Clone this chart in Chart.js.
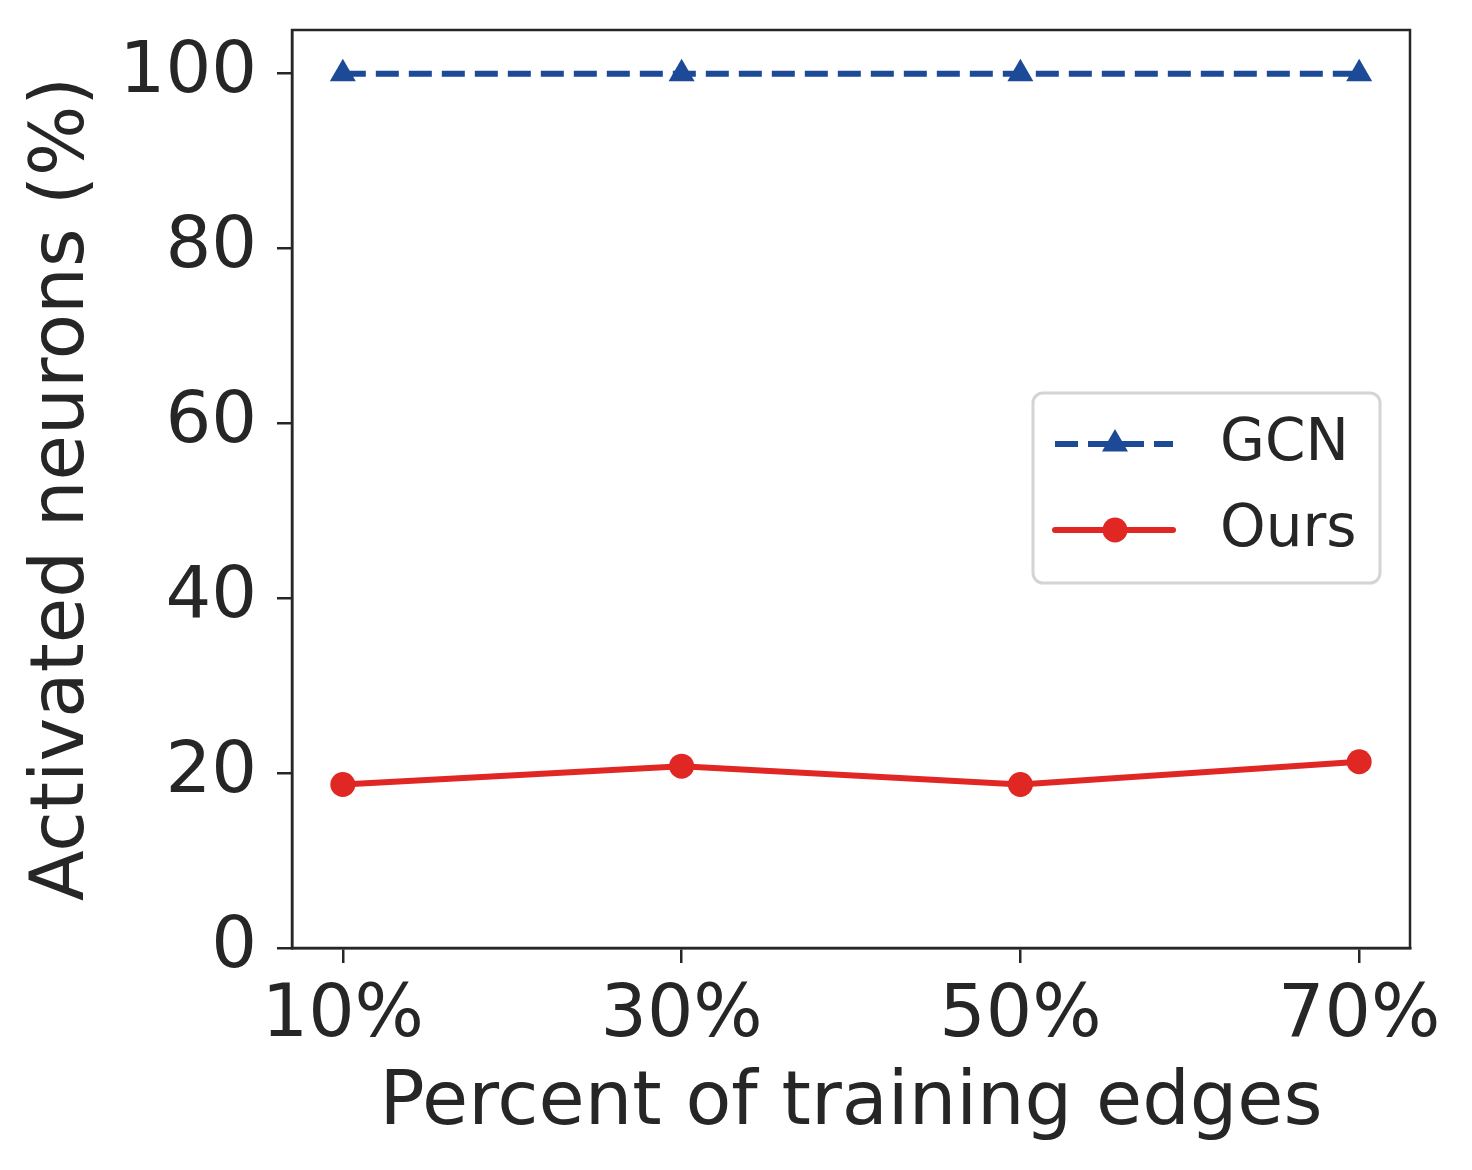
<!DOCTYPE html>
<html lang="en">
  <head>
    <meta charset="UTF-8" />
    <title>Activated neurons</title>
    <style>
      html, body {
        margin: 0;
        padding: 0;
        background: #ffffff;
      }
      #chart {
        display: block;
      }
    </style>
  </head>
  <body>
    <canvas id="chart" width="1472" height="1170"></canvas>
    <script src="https://cdn.jsdelivr.net/npm/chart.js"></script>
    <script>
      // data
      var categories = ["10%", "30%", "50%", "70%"];
      var gcnValues = [100, 100, 100, 100];
      var oursValues = [18.7, 20.8, 18.7, 21.3];
      var yTicks = [0, 20, 40, 60, 80, 100];

      var INK = "#262626";
      var BLUE = "#1d4a96";
      var RED = "#e02724";
      var FONT = "'DejaVu Sans', sans-serif";

      function toPoints(values) {
        return values.map(function (v, i) {
          return { x: i, y: v };
        });
      }

      // frame around the plot area (all four spines)
      var framePlugin = {
        id: "frame",
        afterDraw: function (chart) {
          var a = chart.chartArea;
          var ctx = chart.ctx;
          ctx.save();
          ctx.strokeStyle = INK;
          ctx.lineWidth = 2.5;
          ctx.strokeRect(a.left, a.top, a.right - a.left, a.bottom - a.top);
          ctx.restore();
        },
      };

      // legend box inside the plot, like matplotlib's
      var legendPlugin = {
        id: "insideLegend",
        afterDraw: function (chart) {
          var ctx = chart.ctx;
          var a = chart.chartArea;
          var w = 347, h = 190;
          var x0 = a.right - 30 - w;
          var y0 = 393;
          ctx.save();
          ctx.beginPath();
          ctx.roundRect(x0, y0, w, h, 10);
          ctx.fillStyle = "rgba(255,255,255,0.8)";
          ctx.fill();
          ctx.strokeStyle = "#d4d4d4";
          ctx.lineWidth = 3;
          ctx.stroke();

          var rows = [
            { label: "GCN", color: BLUE, dash: [23, 10], marker: "triangle", y: y0 + 51 },
            { label: "Ours", color: RED, dash: [], marker: "circle", y: y0 + 137 },
          ];
          rows.forEach(function (r) {
            var lx0 = x0 + 22, lx1 = x0 + 140, mx = x0 + 82;
            ctx.beginPath();
            ctx.setLineDash(r.dash);
            ctx.lineCap = r.dash.length ? "butt" : "round";
            ctx.strokeStyle = r.color;
            ctx.lineWidth = 6;
            ctx.moveTo(lx0, r.y);
            ctx.lineTo(lx1, r.y);
            ctx.stroke();
            ctx.setLineDash([]);
            ctx.fillStyle = r.color;
            ctx.beginPath();
            if (r.marker === "triangle") {
              var rad = 15;
              ctx.moveTo(mx, r.y - rad);
              ctx.lineTo(mx + rad * 0.866, r.y + rad * 0.5);
              ctx.lineTo(mx - rad * 0.866, r.y + rad * 0.5);
              ctx.closePath();
            } else {
              ctx.arc(mx, r.y, 12.5, 0, Math.PI * 2);
            }
            ctx.fill();
            ctx.fillStyle = INK;
            ctx.font = "58px " + FONT;
            ctx.textBaseline = "middle";
            ctx.textAlign = "left";
            ctx.fillText(r.label, x0 + 187, r.y + 1);
          });
          ctx.restore();
        },
      };

      var ctx = document.getElementById("chart").getContext("2d");
      var chart = new Chart(ctx, {
        type: "line",
        data: {
          datasets: [
            {
              label: "GCN",
              data: toPoints(gcnValues),
              borderColor: BLUE,
              backgroundColor: BLUE,
              borderWidth: 6,
              borderDash: [23, 10],
              pointStyle: "triangle",
              pointRadius: 15,
              pointHoverRadius: 15,
              pointBorderWidth: 0,
            },
            {
              label: "Ours",
              data: toPoints(oursValues),
              borderColor: RED,
              backgroundColor: RED,
              borderWidth: 6,
              pointStyle: "circle",
              pointRadius: 12.5,
              pointHoverRadius: 12.5,
              pointBorderWidth: 0,
            },
          ],
        },
        options: {
          responsive: false,
          devicePixelRatio: 1,
          animation: false,
          events: [],
          layout: {
            padding: { top: 30, right: 62, left: 0, bottom: 0 },
          },
          plugins: {
            legend: { display: false },
            tooltip: { enabled: false },
          },
          scales: {
            x: {
              type: "linear",
              min: -0.15,
              max: 3.15,
              afterBuildTicks: function (scale) {
                scale.ticks = categories.map(function (c, i) {
                  return { value: i };
                });
              },
              afterFit: function (scale) {
                scale.height = 222;
                scale.paddingLeft = 0;
                scale.paddingRight = 0;
              },
              grid: {
                drawOnChartArea: false,
                drawTicks: true,
                tickLength: 15,
                color: INK,
                lineWidth: 2.5,
              },
              border: { display: true, color: INK, width: 2.5 },
              ticks: {
                color: INK,
                padding: 10,
                maxRotation: 0,
                autoSkip: false,
                font: { family: FONT, size: 73 },
                callback: function (v) {
                  return categories[v];
                },
              },
              title: {
                display: true,
                text: "Percent of training edges",
                color: INK,
                font: { family: FONT, size: 75 },
                padding: { top: 0, bottom: 20 },
              },
            },
            y: {
              min: 0,
              max: 105,
              afterBuildTicks: function (scale) {
                scale.ticks = yTicks.map(function (v) {
                  return { value: v };
                });
              },
              afterFit: function (scale) {
                scale.width = 292;
                scale.paddingTop = 0;
                scale.paddingBottom = 0;
              },
              grid: {
                drawOnChartArea: false,
                drawTicks: true,
                tickLength: 15,
                color: INK,
                lineWidth: 2.5,
              },
              border: { display: true, color: INK, width: 2.5 },
              ticks: {
                color: INK,
                padding: 20,
                font: { family: FONT, size: 72 },
              },
              title: {
                display: true,
                text: "Activated neurons (%)",
                color: INK,
                font: { family: FONT, size: 74 },
                padding: { top: 19, bottom: 0 },
              },
            },
          },
        },
        plugins: [framePlugin, legendPlugin],
      });
    </script>
  </body>
</html>
